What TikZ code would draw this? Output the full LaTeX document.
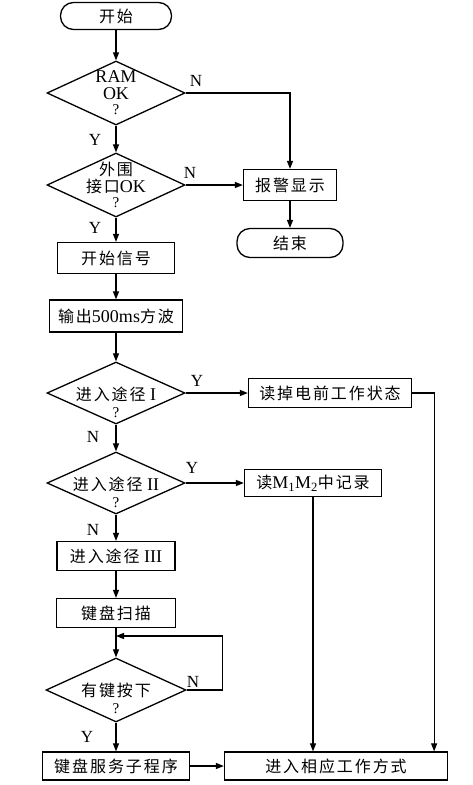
\documentclass[tikz,border=0pt]{standalone}
\usepackage{fontspec}
\setmainfont{Liberation Serif}
\newfontfamily\cjk[LetterSpace=12]{Noto Sans CJK SC}
\newcommand\cj[1]{{\fontsize{16}{17}\selectfont\cjk #1}}
\usetikzlibrary{shapes.geometric,arrows.meta}
\begin{document}
\begin{tikzpicture}[x=1pt,y=-1pt,
  every node/.style={font=\fontsize{18}{17}\selectfont},
  proc/.style={draw,line width=1.3pt,rectangle,inner sep=0pt,minimum height=29pt},
  term/.style={draw,line width=1.3pt,rectangle,rounded corners=13pt,inner sep=0pt,minimum height=27pt},
  dia/.style={draw,line width=1.3pt,diamond,inner sep=0pt,minimum width=138pt,minimum height=64pt},
  dtext/.style={align=center,inner sep=0pt,font=\fontsize{18}{17}\selectfont},
  yn/.style={font=\fontsize{17}{17}\selectfont,inner sep=0pt},
  arr/.style={line width=1.2pt,-{Triangle[length=8pt,width=6pt]}}]
\useasboundingbox (0,0) rectangle (472,785);
% main column
\node[term,minimum width=111pt] (t1) at (116,16) {\cj{开始}};
\node[dia] (d1) at (116,93) {};
\node[dtext] at (d1) {RAM\\OK\\[-2pt]{\fontsize{15}{15}\selectfont ?}};
\node[dia] (d2) at (116,185) {};
\node[dtext] at (d2) {\cj{外围}\\\cj{接口}OK\\[-2pt]{\fontsize{15}{15}\selectfont ?}};
\node[proc,minimum width=117pt,minimum height=31pt] (b1) at (116,258) {\cj{开始信号}};
\node[proc,minimum width=133pt,minimum height=32pt] (b2) at (116,316) {\cj{输出}500ms\cj{方波}};
\node[dia,minimum height=62pt] (d3) at (116,393) {};
\node[dtext,yshift=-9pt] at (d3) {\cj{进入途径} I\\{\fontsize{15}{15}\selectfont ?}};
\node[dia,minimum height=62pt] (d4) at (116,483) {};
\node[dtext,yshift=-9pt] at (d4) {\cj{进入途径} II\\{\fontsize{15}{15}\selectfont ?}};
\node[proc,minimum width=118pt] (b3) at (116,556) {\cj{进入途径} III};
\node[proc,minimum width=119pt] (b4) at (116,613) {\cj{键盘扫描}};
\node[dia,minimum width=140pt] (d5) at (116,690) {};
\node[dtext,yshift=-8pt] at (d5) {\cj{有键按下}\\{\fontsize{15}{15}\selectfont ?}};
\node[proc,minimum width=147pt,minimum height=28pt] (b5) at (116,766) {\cj{键盘服务子程序}};
% right column
\node[proc,minimum width=93pt,minimum height=31pt] (a1) at (290,185) {\cj{报警显示}};
\node[term,minimum width=106pt,minimum height=29pt] (t2) at (290,243) {\cj{结束}};
\node[proc,minimum width=163pt] (b6) at (330,393) {\cj{读掉电前工作状态}};
\node[proc,minimum width=137pt,minimum height=27pt] (b7) at (313,483) {\cj{读}M\textsubscript{1}M\textsubscript{2}\cj{中记录}};
\node[proc,minimum width=223pt,minimum height=28pt] (b8) at (336,766) {\cj{进入相应工作方式}};
\coordinate (lp) at (116,636);
% connectors
\draw[arr] (t1.south) -- (d1.north);
\draw[arr] (d1.south) -- (d2.north);
\draw[arr] (d1.east) -| (a1.north);
\draw[arr] (d2.east) -- (a1.west);
\draw[arr] (a1.south) -- (t2.north);
\draw[arr] (d2.south) -- (b1.north);
\draw[arr] (b1.south) -- (b2.north);
\draw[arr] (b2.south) -- (d3.north);
\draw[arr] (d3.east) -- (b6.west);
\draw[arr] (d3.south) -- (d4.north);
\draw[arr] (d4.east) -- (b7.west);
\draw[arr] (d4.south) -- (b3.north);
\draw[arr] (b3.south) -- (b4.north);
\draw[arr] (b4.south) -- (d5.north);
\draw[arr] (d5.east) -- ++(36,0) |- (lp);
\draw[arr] (d5.south) -- (b5.north);
\draw[arr] (b5.east) -- (b8.west);
\draw[arr] (b6.east) -| ([xshift=-14pt]b8.north east);
\draw[arr] (b7.south) -- (b7.south |- b8.north);
% labels
\node[yn] (l1) at (196,81) {N};
\node[yn] (l2) at (95,140) {Y};
\node[yn] (l3) at (190,173) {N};
\node[yn] (l4) at (95,228) {Y};
\node[yn] (l5) at (197,381) {Y};
\node[yn] (l6) at (93,437) {N};
\node[yn] (l7) at (192,468) {Y};
\node[yn] (l8) at (93,530) {N};
\node[yn] (l9) at (193,682) {N};
\node[yn] (l10) at (87,737) {Y};
\end{tikzpicture}
\end{document}
